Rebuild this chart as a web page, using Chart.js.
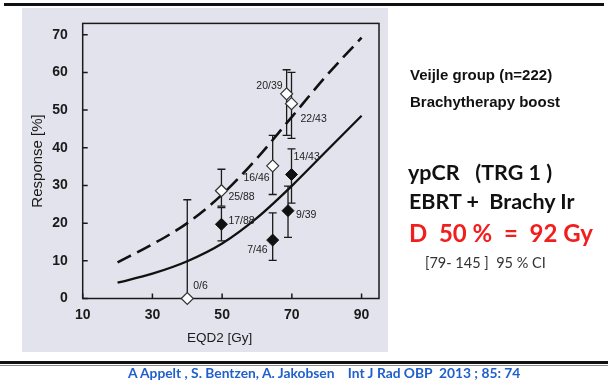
<!DOCTYPE html>
<html>
<head>
<meta charset="utf-8">
<script src="https://cdn.jsdelivr.net/npm/chart.js@4.4.1/dist/chart.umd.min.js"></script>
<style>
  body { margin: 0; background: #fff; }
  #page { position: relative; width: 608px; height: 387px; overflow: hidden; font-family: "Liberation Sans", Arial, sans-serif; }
  #scan { position: absolute; left: 22px; top: 8px; width: 366px; height: 344px; background: #e3e3ee; }
  #chart { position: absolute; left: 0; top: 0; }
  .rule { position: absolute; background: #111; }
  .t { position: absolute; white-space: pre; line-height: 1; }
  .side { font-family: "Liberation Sans", Arial, sans-serif; font-weight: bold; font-size: 15px; color: #111; }
  .big { font-family: Lato, "Open Sans", sans-serif; font-weight: bold; font-size: 21.5px; color: #111; }
</style>
</head>
<body>
<div id="page">
  <div id="scan"></div>
  <div class="rule" style="left:4px; top:3px; width:600px; height:2.5px;"></div>
  <canvas id="chart" width="608" height="387"></canvas>

  <div class="t side" style="left:410px; top:67px;">Veijle group (n=222)</div>
  <div class="t side" style="left:410px; top:94px;">Brachytherapy boost</div>
  <div class="t big" style="left:408px; top:162px;">ypCR   (TRG 1 )</div>
  <div class="t big" style="left:409px; top:191px;">EBRT +  Brachy Ir</div>
  <div class="t big" style="left:409px; top:221px; font-size:24px; color:#f21d1d;">D  50 %  =  92 Gy</div>
  <div class="t" style="left:425px; top:256px; font-family:Lato, sans-serif; font-size:14.5px; color:#333;">[79- 145 ]  95 % CI</div>

  <div class="t" style="left:187px; top:331px; font-size:13.5px; color:#1a1a1a;">EQD2 [Gy]</div>

  <div class="rule" style="left:0; top:360.5px; width:608px; height:3px;"></div>
  <div class="rule" style="left:0; top:365px; width:608px; height:1px; background:#888;"></div>
  <div class="t" style="left:128px; top:365.5px; font-family:Lato, sans-serif; font-weight:bold; font-size:13.8px; color:#2160cc;">A Appelt , S. Bentzen, A. Jakobsen    Int J Rad OBP  2013 ; 85: 74</div>
</div>
<script>
// axis ticks
const X_TICKS = [10, 30, 50, 70, 90];
const Y_TICKS = [0, 10, 20, 30, 40, 50, 60, 70];

// fitted dose-response curves (EQD2 Gy -> response %)
const curveDose = [20, 30, 40, 50, 60, 70, 80, 90];
const dashedFit = [9.6, 14.4, 20.0, 27.6, 37.2, 48.2, 59.2, 69.2];
const solidFit = [4.2, 6.6, 9.9, 14.6, 21.4, 29.9, 39.2, 48.5];

// open diamonds
const openDose = [40, 49.8, 64.5, 68.5, 69.9];
const openResp = [0, 28.6, 35.2, 54.3, 51.7];
const openLow = [0, 24.5, 27.6, 43.3, 42.5];
const openHigh = [26.2, 34.3, 43.3, 60.7, 60.0];
const openLabels = ['0/6', '25/88', '16/46', '20/39', '22/43'];

// filled diamonds
const filledDose = [49.8, 64.5, 68.9, 69.9];
const filledResp = [19.7, 15.5, 23.3, 32.9];
const filledLow = [15.3, 10.1, 16.2, 25.3];
const filledHigh = [24.1, 22.7, 29.8, 39.7];
const filledLabels = ['17/88', '7/46', '9/39', '14/43'];

// where each point label sits relative to its marker: dx, dy, align
const labelPlace = {
  '0/6': [6, -12, 'left'], '25/88': [7, 6, 'left'], '16/46': [-3, 12, 'right'],
  '20/39': [-4, -8, 'right'], '22/43': [9, 15, 'left'],
  '17/88': [7, -3, 'left'], '7/46': [-5, 10, 'right'], '9/39': [8, 4, 'left'], '14/43': [2, -17, 'left']
};

const FONT = '"Liberation Sans", Arial, sans-serif';
const pts = (xs, ys) => xs.map((v, i) => ({ x: v, y: ys[i] }));

// frame, inner ticks, error bars and point labels
const extras = {
  id: 'extras',
  beforeDatasetsDraw(chart) {
    const { ctx, chartArea: a, scales: { x, y } } = chart;
    ctx.save();
    ctx.strokeStyle = '#1a1a1a';
    ctx.lineWidth = 1.5;
    ctx.strokeRect(a.left, a.top, a.right - a.left, a.bottom - a.top);
    ctx.beginPath();
    Y_TICKS.forEach(v => {
      const py = y.getPixelForValue(v);
      ctx.moveTo(a.left, py); ctx.lineTo(a.left + 5, py);
    });
    X_TICKS.forEach(v => {
      const px = x.getPixelForValue(v);
      ctx.moveTo(px, a.bottom); ctx.lineTo(px, a.bottom - 5);
    });
    ctx.stroke();

    const bars = (xs, lo, hi) => xs.forEach((d, i) => {
      const px = x.getPixelForValue(d);
      const p1 = y.getPixelForValue(lo[i]);
      const p2 = y.getPixelForValue(hi[i]);
      ctx.moveTo(px, p1); ctx.lineTo(px, p2);
      ctx.moveTo(px - 4, p1); ctx.lineTo(px + 4, p1);
      ctx.moveTo(px - 4, p2); ctx.lineTo(px + 4, p2);
    });
    ctx.beginPath();
    ctx.lineWidth = 1.3;
    bars(openDose, openLow, openHigh);
    bars(filledDose, filledLow, filledHigh);
    ctx.stroke();
    ctx.restore();
  },
  afterDatasetsDraw(chart) {
    const { ctx, scales: { x, y } } = chart;
    ctx.save();
    ctx.font = '10.5px ' + FONT;
    ctx.fillStyle = '#222';
    ctx.textBaseline = 'middle';
    const write = (xs, ys, labels) => labels.forEach((lab, i) => {
      const [dx, dy, align] = labelPlace[lab];
      ctx.textAlign = align;
      ctx.fillText(lab, x.getPixelForValue(xs[i]) + dx, y.getPixelForValue(ys[i]) + dy);
    });
    write(openDose, openResp, openLabels);
    write(filledDose, filledResp, filledLabels);
    ctx.restore();
  }
};

const tickFont = { size: 14, weight: 'bold', family: FONT };

new Chart(document.getElementById('chart'), {
  type: 'scatter',
  data: {
    datasets: [
      {
        data: pts(openDose, openResp), pointStyle: 'rectRot', pointRadius: 6,
        backgroundColor: '#fff', borderColor: '#333', borderWidth: 1.2, order: 0, clip: false
      },
      {
        data: pts(filledDose, filledResp), pointStyle: 'rectRot', pointRadius: 6,
        backgroundColor: '#111', borderColor: '#111', borderWidth: 1, order: 0, clip: false
      },
      {
        data: pts(curveDose, dashedFit), showLine: true, borderDash: [15, 7], borderColor: '#111',
        borderWidth: 2.6, pointRadius: 0, cubicInterpolationMode: 'monotone', order: 1
      },
      {
        data: pts(curveDose, solidFit), showLine: true, borderColor: '#111',
        borderWidth: 2.3, pointRadius: 0, cubicInterpolationMode: 'monotone', order: 1
      }
    ]
  },
  options: {
    responsive: false,
    animation: false,
    events: [],
    layout: { padding: { left: 20, top: 19.5, right: 229, bottom: 48.5 } },
    plugins: { legend: { display: false }, tooltip: { enabled: false } },
    scales: {
      x: {
        type: 'linear', min: 10, max: 95,
        afterBuildTicks: s => { s.ticks = X_TICKS.map(v => ({ value: v })); },
        afterFit: s => { s.height = 40; },
        grid: { display: false, drawTicks: false },
        border: { display: false },
        ticks: { padding: 8, color: '#1a1a1a', font: tickFont }
      },
      y: {
        type: 'linear', min: 0, max: 73,
        afterBuildTicks: s => { s.ticks = Y_TICKS.map(v => ({ value: v })); },
        afterFit: s => { s.width = 62.7; },
        grid: { display: false, drawTicks: false },
        border: { display: false },
        ticks: { padding: 15, color: '#1a1a1a', font: tickFont },
        title: {
          display: true, text: 'Response [%]', color: '#1a1a1a',
          font: { size: 15, family: FONT }, padding: { top: 9, bottom: 0 }
        }
      }
    }
  },
  plugins: [extras]
});
</script>
</body>
</html>
